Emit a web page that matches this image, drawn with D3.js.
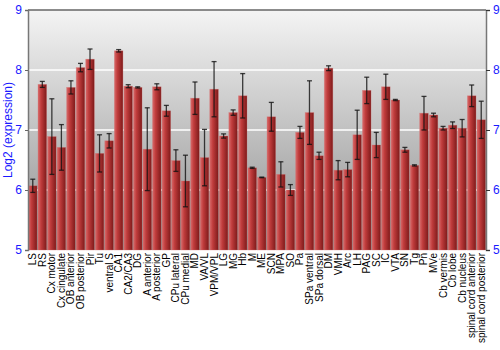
<!DOCTYPE html>
<html>
<head>
<meta charset="utf-8">
<script src="https://cdn.jsdelivr.net/npm/d3@7"></script>
<style>
  body { margin: 0; background: #fff; }
  svg { display: block; font-family: "Liberation Sans", Arial, sans-serif; }
</style>
</head>
<body>
<div id="chartArea"></div>
<script>
// data
var regions = ["LS", "RS", "Cx motor", "Cx cingulate", "OB anterior", "OB posterior", "Pir", "Tu",
  "ventral S", "CA1", "CA2/CA3", "DG", "A anterior", "A posterior", "GP", "CPu lateral", "CPu medial",
  "MD", "VA/VL", "VPM/VPL", "LG", "MG", "Hb", "M", "ME", "SCN", "MPA", "SO", "Pa", "SPa ventral",
  "SPa dorsal", "DM", "VMH", "Arc", "LH", "PAG", "SC", "IC", "VTA", "SN", "Tg", "Pn", "MVe",
  "Cb vermis", "Cb lobe", "Cb nucleus", "spinal cord anterior", "spinal cord posterior"];
var means = [6.07, 7.76, 6.89, 6.71, 7.71, 8.04, 8.18, 6.61,
  6.82, 8.32, 7.73, 7.71, 6.68, 7.72, 7.32, 6.49, 6.15,
  7.53, 6.54, 7.68, 6.90, 7.29, 7.57, 6.37, 6.21, 7.22, 6.26, 6.00, 6.96, 7.29,
  6.57, 8.03, 6.33, 6.34, 6.92, 7.66, 6.75, 7.72, 7.50, 6.67, 6.41, 7.28, 7.25,
  7.03, 7.08, 7.03, 7.57, 7.17];
var errors = [0.11, 0.05, 0.63, 0.38, 0.11, 0.07, 0.17, 0.31,
  0.12, 0.02, 0.025, 0.01, 0.69, 0.05, 0.09, 0.18, 0.43,
  0.27, 0.47, 0.46, 0.035, 0.045, 0.37, 0.01, 0.005, 0.24, 0.21, 0.09, 0.10, 0.53,
  0.06, 0.04, 0.16, 0.12, 0.41, 0.22, 0.21, 0.21, 0.01, 0.04, 0.01, 0.28, 0.03,
  0.03, 0.055, 0.145, 0.18, 0.31];
var yTicks = [5, 6, 7, 8, 9];

var width = 500, height = 350;
var mLeft = 28, mRight = 486, mTop = 10, mBottom = 250;

var data = regions.map(function(r, i) {
  return { name: r, mean: means[i], err: errors[i] };
});

var svg = d3.select("#chartArea").append("svg")
  .attr("width", width)
  .attr("height", height);

var x = d3.scaleBand()
  .domain(regions)
  .range([mLeft, mRight])
  .paddingInner(0.1)
  .paddingOuter(0.05);
var y = d3.scaleLinear()
  .domain([5, 9])
  .range([mBottom, mTop]);

var defs = svg.append("defs");
var bg = defs.append("linearGradient").attr("id", "bgGrad")
  .attr("x1", 0).attr("y1", 0).attr("x2", 0).attr("y2", 1);
bg.append("stop").attr("offset", "0%").attr("stop-color", "#f4f4f4");
bg.append("stop").attr("offset", "100%").attr("stop-color", "#8e8e8e");

var barGrad = defs.append("linearGradient").attr("id", "barGrad")
  .attr("x1", 0).attr("y1", 0).attr("x2", 1).attr("y2", 0);
barGrad.append("stop").attr("offset", "0%").attr("stop-color", "#d86a6a");
barGrad.append("stop").attr("offset", "35%").attr("stop-color", "#c03c3c");
barGrad.append("stop").attr("offset", "100%").attr("stop-color", "#7e1a1a");

// plot background
svg.append("rect")
  .attr("x", mLeft).attr("y", mTop)
  .attr("width", mRight - mLeft).attr("height", mBottom - mTop)
  .attr("fill", "url(#bgGrad)");

// grid lines
svg.append("g").selectAll("line")
  .data([6, 7, 8])
  .enter().append("line")
  .attr("x1", mLeft).attr("x2", mRight)
  .attr("y1", function(d) { return y(d); })
  .attr("y2", function(d) { return y(d); })
  .attr("stroke", "#ffffff")
  .attr("stroke-opacity", 0.75)
  .attr("stroke-width", 2);

// bars
svg.selectAll(".bar")
  .data(data)
  .enter().append("rect")
  .attr("class", "bar")
  .attr("x", function(d) { return x(d.name); })
  .attr("width", x.bandwidth())
  .attr("y", function(d) { return y(d.mean); })
  .attr("height", function(d) { return mBottom - y(d.mean); })
  .attr("fill", "url(#barGrad)")
  .attr("stroke", "#d47070")
  .attr("stroke-opacity", 0.5)
  .attr("stroke-width", 0.6);

// error bars
var eb = svg.append("g").selectAll("g")
  .data(data)
  .enter().append("g")
  .attr("stroke", "#111")
  .attr("stroke-opacity", 0.8)
  .attr("stroke-width", 1.3);
eb.append("line")
  .attr("x1", function(d) { return x(d.name) + x.bandwidth() / 2; })
  .attr("x2", function(d) { return x(d.name) + x.bandwidth() / 2; })
  .attr("y1", function(d) { return y(d.mean + d.err); })
  .attr("y2", function(d) { return y(d.mean - d.err); });
eb.selectAll(".cap")
  .data(function(d) { return [d.mean + d.err, d.mean - d.err].map(function(v) { return { name: d.name, v: v }; }); })
  .enter().append("line")
  .attr("class", "cap")
  .attr("x1", function(d) { return x(d.name) + x.bandwidth() / 2 - 2.5; })
  .attr("x2", function(d) { return x(d.name) + x.bandwidth() / 2 + 2.5; })
  .attr("y1", function(d) { return y(d.v); })
  .attr("y2", function(d) { return y(d.v); });

// top frame line
svg.append("line")
  .attr("x1", mLeft).attr("x2", mRight).attr("y1", mTop).attr("y2", mTop)
  .attr("stroke", "#666").attr("stroke-width", 1.5);

// left axis
var yl = svg.append("g")
  .attr("transform", "translate(" + mLeft + ",0)")
  .call(d3.axisLeft(y).tickValues(yTicks).tickSize(3).tickFormat(d3.format("d")));
yl.select(".domain").attr("stroke", "#777").attr("stroke-width", 1.5);
yl.selectAll(".tick line").attr("stroke", "#666");
yl.selectAll(".tick text").attr("fill", "#1a1aff").attr("font-size", 12)
  .attr("font-family", "Liberation Sans, Arial, sans-serif");

// right axis
var yr = svg.append("g")
  .attr("transform", "translate(" + mRight + ",0)")
  .call(d3.axisRight(y).tickValues(yTicks).tickSize(4).tickFormat(d3.format("d")));
yr.select(".domain").attr("stroke", "#777").attr("stroke-width", 1.5);
yr.selectAll(".tick line").attr("stroke", "#333");
yr.selectAll(".tick text").attr("fill", "#1a1aff").attr("font-size", 12)
  .attr("font-family", "Liberation Sans, Arial, sans-serif");

// category labels
var xa = svg.append("g")
  .attr("transform", "translate(0," + mBottom + ")")
  .call(d3.axisBottom(x).tickSize(0));
xa.select(".domain").remove();
xa.selectAll(".tick text")
  .attr("font-size", 10)
  .attr("font-family", "Liberation Sans, Arial, sans-serif")
  .attr("fill", "#000")
  .attr("transform", "rotate(-90)")
  .attr("text-anchor", "end")
  .attr("dy", "0.35em")
  .attr("x", -3)
  .attr("y", 0);

// axis title
svg.append("text")
  .attr("transform", "translate(12," + ((mTop + mBottom) / 2) + ")rotate(-90)")
  .attr("text-anchor", "middle")
  .attr("font-size", 12)
  .attr("fill", "#1a1aff")
  .text("Log2 (expression)");
</script>
</body>
</html>
